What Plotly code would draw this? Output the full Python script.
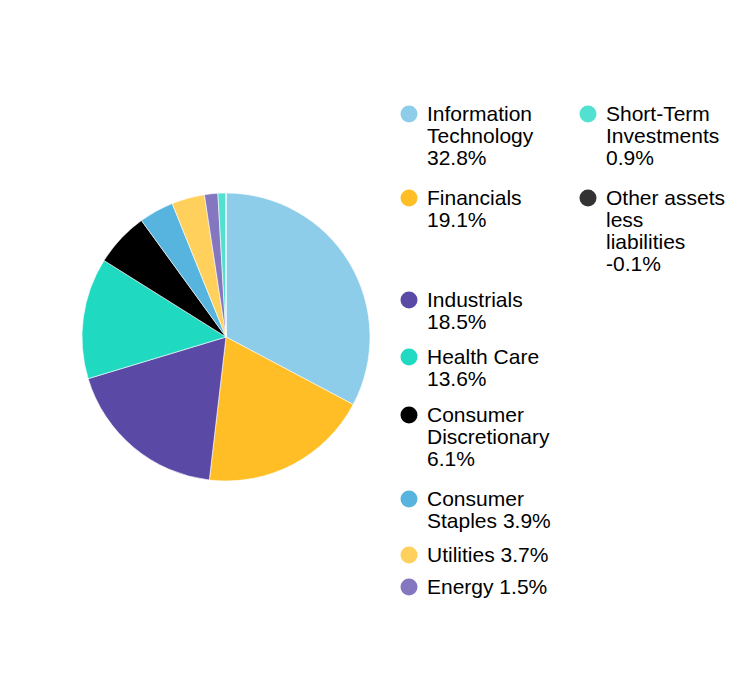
import plotly.graph_objects as go

categories = ["Information Technology", "Financials", "Industrials", "Health Care",
              "Consumer Discretionary", "Consumer Staples", "Utilities", "Energy",
              "Short-Term Investments", "Other assets less liabilities"]
values = [32.8, 19.1, 18.5, 13.6, 6.1, 3.9, 3.7, 1.5, 0.9, -0.1]
colors = ["#8ECDEA", "#FFBE26", "#5A4AA5", "#1FD9C1", "#000000",
          "#56B4DF", "#FFD05C", "#8577BF", "#52E0D0", "#333333"]
# legend text lines (wrapping as in the reference)
legend_lines = [
    ["Information", "Technology", "32.8%"],
    ["Financials", "19.1%"],
    ["Industrials", "18.5%"],
    ["Health Care", "13.6%"],
    ["Consumer", "Discretionary", "6.1%"],
    ["Consumer", "Staples 3.9%"],
    ["Utilities 3.7%"],
    ["Energy 1.5%"],
    ["Short-Term", "Investments", "0.9%"],
    ["Other assets", "less", "liabilities", "-0.1%"],
]

W, H = 756, 684
cx, cy, r = 226, 337, 144

fig = go.Figure()
fig.add_trace(go.Pie(
    labels=categories,
    values=[max(v, 0) for v in values],
    marker=dict(colors=colors, line=dict(color="white", width=0.6)),
    sort=False, direction="clockwise", rotation=0,
    textinfo="none", hoverinfo="label+percent", showlegend=False,
    domain=dict(x=[(cx - r) / W, (cx + r) / W], y=[(H - cy - r) / H, (H - cy + r) / H]),
))

# legend layout (pixel positions of first line centre)
col_x = [409, 588]
entry_pos = [(0, 113), (0, 197), (0, 299), (0, 356), (0, 414), (0, 498), (0, 554), (0, 586),
             (1, 113), (1, 197)]
line_h = 22
mx, my = [], []
annotations = []
for i, lines in enumerate(legend_lines):
    col, y0 = entry_pos[i]
    mx.append(col_x[col])
    my.append(y0 + 1)
    for j, t in enumerate(lines):
        annotations.append(dict(
            x=col_x[col] + 16, y=y0 + j * line_h, xref="x", yref="y",
            text=t, showarrow=False, xanchor="left", yanchor="middle",
            font=dict(family="Liberation Sans, Arial, sans-serif", size=21, color="#000000"),
        ))

fig.add_trace(go.Scatter(
    x=mx, y=my, mode="markers",
    marker=dict(size=17, color=colors, line=dict(width=0)),
    hoverinfo="skip", showlegend=False,
))

fig.update_layout(
    width=W, height=H,
    margin=dict(l=0, r=0, t=0, b=0),
    paper_bgcolor="white", plot_bgcolor="rgba(0,0,0,0)",
    xaxis=dict(range=[0, W], visible=False, fixedrange=True),
    yaxis=dict(range=[H, 0], visible=False, fixedrange=True),
    annotations=annotations,
    showlegend=False,
)

fig.write_html("out.html")
